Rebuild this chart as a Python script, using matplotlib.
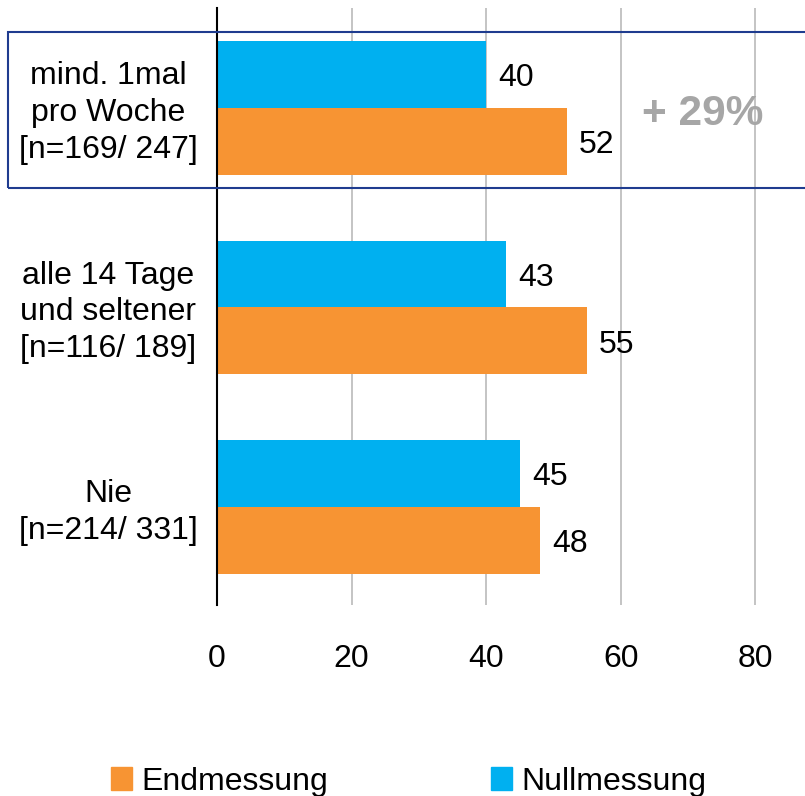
import matplotlib.pyplot as plt
import matplotlib.patches as mpatches
import matplotlib.transforms as mtransforms
import numpy as np

plt.rcParams['font.family'] = ['Liberation Sans', 'DejaVu Sans']

# data
categories = ['mind. 1mal\npro Woche\n[n=169/ 247]',
              'alle 14 Tage\nund seltener\n[n=116/ 189]',
              'Nie\n[n=214/ 331]']
nullmessung = [40, 43, 45]
endmessung = [52, 55, 48]
xticks = [0, 20, 40, 60, 80]
note = '+ 29%'

blue = '#00B0F0'
orange = '#F79433'

fig = plt.figure(figsize=(8.05, 7.96), dpi=100)
ax = fig.add_axes([217 / 805, 191 / 796, 1 - 217 / 805, 597 / 796])

y = np.arange(len(categories))
h = 0.335
ax.barh(y - h / 2, nullmessung, height=h, color=blue, zorder=3)
ax.barh(y + h / 2, endmessung, height=h, color=orange, zorder=3)

# value labels
for yi, v in zip(y, nullmessung):
    ax.text(v + 1.8, yi - h / 2 + 0.018, str(v), va='center', ha='left', fontsize=23)
for yi, v in zip(y, endmessung):
    ax.text(v + 1.8, yi + h / 2 + 0.018, str(v), va='center', ha='left', fontsize=23)

ax.set_xlim(0, 87.4)
ax.set_ylim(2.49, -0.5)
ax.set_xticks(xticks)
ax.set_xticklabels([str(t) for t in xticks], fontsize=23)
ax.tick_params(axis='x', length=0, pad=28)
ax.set_yticks([])
ax.grid(axis='x', color='#BFBFBF', linewidth=1.3, zorder=0)
for s in ['top', 'right', 'bottom']:
    ax.spines[s].set_visible(False)
ax.spines['left'].set_color('black')
ax.spines['left'].set_linewidth(1.5)
ax.spines['left'].set_zorder(4)

# category labels
trans = mtransforms.blended_transform_factory(fig.transFigure, ax.transData)
for yi, lab in zip(y, categories):
    ax.text(108 / 805, yi + 0.025, lab, transform=trans, ha='center', va='center',
            fontsize=23, linespacing=1.3, clip_on=False)

ax.text(72.2, 0.03, note, ha='center', va='center', fontsize=30.5,
        fontweight='bold', color='#A6A6A6')

# highlight box
box = mpatches.Rectangle((8 / 805, 1 - 188 / 796), 1.0, (188 - 32) / 796,
                         transform=fig.transFigure, fill=False,
                         edgecolor='#1F3C8F', linewidth=1.5, clip_on=False, zorder=5)
fig.patches.append(box)

handles = [mpatches.Patch(color=orange, label='Endmessung'),
           mpatches.Patch(color=blue, label='Nullmessung')]
fig.legend(handles=handles, loc='lower left', bbox_to_anchor=(82 / 805, -0.037),
           ncol=2, frameon=False, fontsize=23, handlelength=0.65, handleheight=0.75,
           handletextpad=0.3, columnspacing=5.1)

fig.savefig('out.png', dpi=100)
